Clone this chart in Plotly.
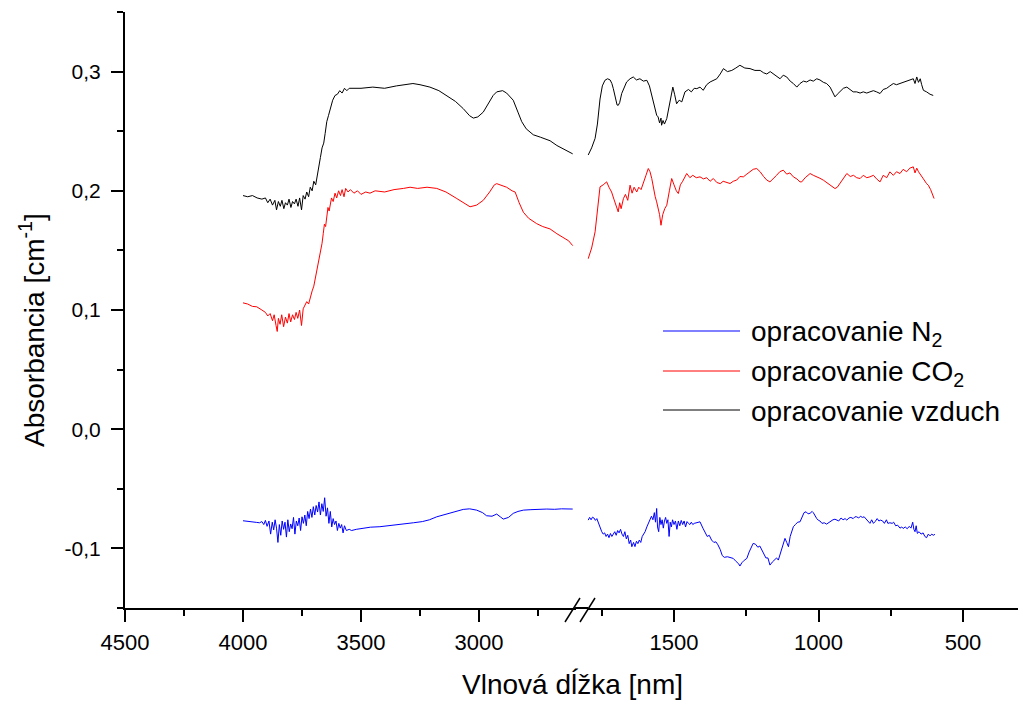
import plotly.graph_objects as go

# ---------------- data: left segment (4000 - 2600 nm) ----------------
wl_vzduch_L = [4000, 3980, 3960, 3940, 3920, 3905, 3895, 3885, 3875, 3865, 3858, 3850, 3842, 3835, 3827,
               3820, 3812, 3805, 3797, 3790, 3782, 3775, 3767, 3760, 3752, 3745, 3737, 3730, 3722, 3715,
               3707, 3700, 3692, 3685, 3678, 3672, 3665, 3658, 3652, 3645, 3638, 3631, 3620, 3610, 3600,
               3590, 3580, 3570, 3560, 3550, 3500, 3450, 3400, 3350, 3300, 3280, 3250, 3208, 3170, 3137,
               3100, 3067, 3040, 3024, 3005, 2982, 2960, 2940, 2925, 2900, 2883, 2855, 2835, 2819, 2800,
               2770, 2740, 2699, 2670, 2643, 2620, 2603]
abs_vzduch_L = [0.196, 0.195, 0.196, 0.194, 0.193, 0.194, 0.190, 0.193, 0.188, 0.192, 0.184, 0.191, 0.187, 0.192, 0.185,
                0.190, 0.188, 0.193, 0.186, 0.191, 0.189, 0.193, 0.187, 0.194, 0.184, 0.196, 0.193, 0.199, 0.195, 0.203,
                0.200, 0.208, 0.205, 0.212, 0.220, 0.228, 0.236, 0.240, 0.248, 0.258, 0.263, 0.269, 0.276, 0.280, 0.281,
                0.284, 0.282, 0.286, 0.284, 0.286, 0.286, 0.287, 0.286, 0.288, 0.289, 0.290, 0.289, 0.287, 0.284, 0.280,
                0.275, 0.269, 0.263, 0.261, 0.262, 0.266, 0.273, 0.280, 0.283, 0.284, 0.282, 0.276, 0.266, 0.258, 0.252,
                0.247, 0.245, 0.242, 0.238, 0.235, 0.233, 0.231]

wl_co2_L = [4000, 3980, 3960, 3942, 3920, 3905, 3895, 3885, 3875, 3868, 3860, 3855, 3850, 3843, 3836,
            3828, 3820, 3812, 3805, 3798, 3790, 3782, 3775, 3768, 3760, 3752, 3745, 3737, 3730, 3722,
            3715, 3707, 3700, 3692, 3685, 3678, 3672, 3665, 3660, 3655, 3650, 3645, 3640, 3635, 3630,
            3625, 3618, 3610, 3603, 3595, 3587, 3580, 3572, 3565, 3555, 3545, 3530, 3515, 3500, 3480,
            3462, 3440, 3400, 3360, 3320, 3292, 3260, 3220, 3179, 3140, 3094, 3060, 3038, 3010, 2982,
            2955, 2935, 2925, 2900, 2883, 2860, 2847, 2830, 2812, 2790, 2770, 2756, 2730, 2699, 2670,
            2643, 2620, 2603]
abs_co2_L = [0.106, 0.105, 0.103, 0.1027, 0.100, 0.098, 0.095, 0.097, 0.091, 0.096, 0.087, 0.082, 0.093, 0.088, 0.096,
             0.086, 0.094, 0.089, 0.097, 0.090, 0.096, 0.092, 0.098, 0.093, 0.100, 0.087, 0.101, 0.104, 0.107, 0.105,
             0.111, 0.116, 0.120, 0.128, 0.134, 0.140, 0.148, 0.156, 0.164, 0.172, 0.170, 0.180, 0.186, 0.183, 0.190,
             0.194, 0.191, 0.198, 0.194, 0.200, 0.196, 0.201, 0.195, 0.202, 0.199, 0.201, 0.198, 0.200, 0.197, 0.199,
             0.198, 0.200, 0.199, 0.201, 0.202, 0.203, 0.202, 0.203, 0.202, 0.199, 0.1935, 0.189, 0.1866, 0.188, 0.192,
             0.199, 0.205, 0.206, 0.204, 0.203, 0.200, 0.199, 0.190, 0.182, 0.177, 0.174, 0.1725, 0.170, 0.168, 0.164,
             0.161, 0.158, 0.154]

wl_n2_L = [4000, 3980, 3960, 3942, 3930, 3920, 3912, 3905, 3898, 3890, 3883, 3876, 3870, 3864, 3858,
           3852, 3846, 3840, 3834, 3828, 3822, 3816, 3810, 3804, 3798, 3792, 3786, 3780, 3774, 3768,
           3762, 3756, 3750, 3744, 3738, 3732, 3726, 3720, 3714, 3708, 3702, 3696, 3690, 3684, 3678,
           3672, 3666, 3660, 3654, 3648, 3642, 3636, 3630, 3624, 3618, 3612, 3606, 3600, 3594, 3588,
           3582, 3576, 3570, 3562, 3550, 3540, 3520, 3500, 3480, 3460, 3420, 3380, 3340, 3300, 3278,
           3240, 3210, 3179, 3140, 3100, 3067, 3040, 3010, 2985, 2968, 2945, 2925, 2910, 2897, 2875,
           2855, 2835, 2812, 2780, 2750, 2713, 2680, 2650, 2603]
abs_n2_L = [-0.0768, -0.0775, -0.0780, -0.0782, -0.0785, -0.0775, -0.0800, -0.0765, -0.0815, -0.0770, -0.0880, -0.0780, -0.0845, -0.0760, -0.0830,
            -0.0950, -0.0800, -0.0890, -0.0770, -0.0840, -0.0780, -0.0905, -0.0760, -0.0860, -0.0795, -0.0835, -0.0740, -0.0880, -0.0770, -0.0810,
            -0.0745, -0.0850, -0.0735, -0.0790, -0.0720, -0.0810, -0.0690, -0.0750, -0.0670, -0.0740, -0.0650, -0.0720, -0.0640, -0.0695, -0.0610,
            -0.0720, -0.0625, -0.0690, -0.0575, -0.0730, -0.0660, -0.0790, -0.0690, -0.0820, -0.0750, -0.0800, -0.0770, -0.0850, -0.0790, -0.0830,
            -0.0800, -0.0870, -0.0810, -0.0850, -0.0840, -0.0850, -0.0840, -0.0835, -0.0825, -0.0822, -0.0818, -0.0810, -0.0800, -0.0790, -0.0785,
            -0.0775, -0.0760, -0.0735, -0.0715, -0.0695, -0.0673, -0.0668, -0.0679, -0.0700, -0.0726, -0.0730, -0.0712, -0.0735, -0.0754, -0.0740,
            -0.0706, -0.0690, -0.0679, -0.0675, -0.0672, -0.0670, -0.0672, -0.0668, -0.0670]

# ---------------- data: right segment (1800 - 600 nm) ----------------
wl_vzduch_R = [1797, 1785, 1773, 1765, 1756, 1748, 1739, 1730, 1721, 1715, 1710, 1703, 1697, 1693, 1688,
               1681, 1672, 1664, 1652, 1641, 1630, 1618, 1606, 1594, 1585, 1577, 1568, 1560, 1555, 1550,
               1545, 1543, 1538, 1533, 1525, 1515, 1508, 1504, 1498, 1491, 1482, 1473, 1462, 1450, 1440,
               1430, 1421, 1410, 1399, 1387, 1375, 1363, 1352, 1340, 1329, 1315, 1300, 1286, 1272, 1255,
               1237, 1220, 1202, 1190, 1179, 1167, 1156, 1145, 1133, 1122, 1110, 1098, 1087, 1075, 1064,
               1052, 1041, 1029, 1018, 1006, 995, 983, 972, 960, 950, 943, 935, 926, 914, 902,
               890, 880, 868, 856, 845, 833, 822, 810, 799, 787, 776, 764, 753, 741, 730,
               718, 707, 695, 684, 672, 666, 660, 654, 648, 643, 637, 626, 614, 603]
abs_vzduch_R = [0.230, 0.236, 0.244, 0.256, 0.277, 0.288, 0.2927, 0.294, 0.293, 0.290, 0.2857, 0.278, 0.272, 0.2717, 0.274,
                0.2816, 0.287, 0.2913, 0.294, 0.2955, 0.293, 0.294, 0.292, 0.2927, 0.288, 0.280, 0.270, 0.2634, 0.262, 0.257,
                0.261, 0.255, 0.259, 0.256, 0.2606, 0.272, 0.280, 0.287, 0.281, 0.273, 0.276, 0.2746, 0.283, 0.285, 0.283,
                0.286, 0.2857, 0.287, 0.2843, 0.289, 0.2913, 0.293, 0.294, 0.298, 0.3025, 0.300, 0.301, 0.303, 0.3053, 0.303,
                0.3025, 0.301, 0.301, 0.299, 0.298, 0.300, 0.298, 0.296, 0.294, 0.297, 0.2955, 0.292, 0.290, 0.287, 0.290,
                0.292, 0.2913, 0.293, 0.292, 0.294, 0.293, 0.291, 0.290, 0.287, 0.282, 0.2788, 0.281, 0.283, 0.286, 0.287,
                0.285, 0.283, 0.283, 0.282, 0.283, 0.282, 0.283, 0.284, 0.283, 0.2816, 0.285, 0.286, 0.288, 0.290, 0.289,
                0.290, 0.2913, 0.292, 0.293, 0.294, 0.290, 0.2955, 0.291, 0.294, 0.289, 0.2843, 0.283, 0.281, 0.280]

wl_co2_R = [1797, 1785, 1773, 1765, 1756, 1745, 1733, 1725, 1716, 1708, 1700, 1693, 1688, 1683, 1675,
            1668, 1660, 1652, 1645, 1638, 1629, 1622, 1614, 1606, 1597, 1589, 1583, 1577, 1570, 1565,
            1560, 1555, 1550, 1545, 1539, 1532, 1525, 1516, 1508, 1500, 1492, 1485, 1478, 1470, 1462,
            1456, 1445, 1435, 1423, 1410, 1398, 1387, 1375, 1364, 1352, 1340, 1330, 1318, 1306, 1295,
            1283, 1272, 1260, 1248, 1237, 1226, 1214, 1202, 1190, 1179, 1168, 1156, 1145, 1134, 1122,
            1110, 1099, 1087, 1075, 1064, 1058, 1046, 1040, 1029, 1018, 1006, 995, 983, 972, 960,
            950, 943, 935, 926, 914, 902, 890, 879, 868, 856, 845, 833, 822, 810, 799,
            787, 776, 764, 753, 741, 730, 718, 707, 695, 684, 672, 666, 660, 654, 649,
            637, 626, 620, 612, 606, 600]
abs_co2_R = [0.143, 0.152, 0.1656, 0.185, 0.2033, 0.205, 0.2075, 0.203, 0.199, 0.193, 0.187, 0.1823, 0.190, 0.185, 0.1935,
             0.197, 0.192, 0.2047, 0.198, 0.203, 0.199, 0.203, 0.201, 0.2075, 0.213, 0.2187, 0.216, 0.2103, 0.200, 0.195,
             0.1907, 0.185, 0.180, 0.1711, 0.180, 0.185, 0.1879, 0.200, 0.2103, 0.205, 0.200, 0.1977, 0.205, 0.208, 0.212,
             0.2145, 0.211, 0.213, 0.211, 0.2117, 0.210, 0.211, 0.208, 0.2103, 0.207, 0.206, 0.208, 0.207, 0.2061, 0.208,
             0.209, 0.212, 0.2117, 0.214, 0.216, 0.218, 0.2187, 0.216, 0.212, 0.209, 0.2075, 0.210, 0.213, 0.216, 0.2173,
             0.214, 0.215, 0.2117, 0.210, 0.2075, 0.2075, 0.211, 0.212, 0.2145, 0.213, 0.212, 0.2105, 0.2089, 0.207, 0.205,
             0.203, 0.2019, 0.203, 0.206, 0.210, 0.2145, 0.212, 0.213, 0.211, 0.2103, 0.213, 0.211, 0.2117, 0.213, 0.210,
             0.2075, 0.213, 0.211, 0.2159, 0.213, 0.216, 0.2145, 0.218, 0.216, 0.219, 0.2201, 0.215, 0.219, 0.216, 0.2145,
             0.210, 0.206, 0.2047, 0.201, 0.197, 0.1935]

wl_n2_R = [1797, 1792, 1787, 1782, 1777, 1772, 1767, 1760, 1755, 1750, 1745, 1740, 1735, 1730, 1725,
           1720, 1715, 1710, 1705, 1700, 1695, 1690, 1685, 1680, 1675, 1670, 1665, 1660, 1655, 1650,
           1646, 1640, 1635, 1630, 1625, 1620, 1615, 1610, 1605, 1600, 1594, 1588, 1583, 1578, 1573,
           1568, 1564, 1560, 1557, 1553, 1549, 1545, 1541, 1537, 1533, 1529, 1525, 1521, 1517, 1513,
           1509, 1505, 1500, 1495, 1490, 1485, 1480, 1475, 1470, 1465, 1460, 1455, 1450, 1445, 1440,
           1435, 1430, 1420, 1410, 1400, 1392, 1385, 1378, 1370, 1362, 1355, 1348, 1340, 1333, 1326,
           1315, 1305, 1295, 1285, 1276, 1272, 1265, 1257, 1248, 1240, 1233, 1226, 1218, 1210, 1203,
           1197, 1190, 1182, 1175, 1168, 1160, 1152, 1145, 1139, 1130, 1122, 1116, 1110, 1104, 1098,
           1092, 1087, 1080, 1072, 1064, 1058, 1050, 1043, 1036, 1029, 1022, 1018, 1012, 1006, 1001,
           995, 988, 980, 972, 965, 958, 950, 943, 937, 930, 922, 915, 908, 902, 895,
           888, 880, 874, 868, 861, 855, 848, 842, 836, 829, 822, 816, 810, 804, 797,
           791, 785, 778, 772, 765, 760, 753, 745, 740, 733, 726, 718, 712, 707, 700,
           693, 686, 680, 674, 670, 666, 662, 658, 652, 645, 638, 632, 626, 620, 614,
           608, 603, 597]
abs_n2_R = [-0.0763, -0.0740, -0.0760, -0.0738, -0.0745, -0.0765, -0.0750, -0.0800, -0.0830, -0.0860, -0.0880, -0.0870, -0.0900, -0.0880, -0.0910,
            -0.0875, -0.0900, -0.0880, -0.0860, -0.0890, -0.0850, -0.0870, -0.0840, -0.0880, -0.0900, -0.0860, -0.0920, -0.0890, -0.0960, -0.0930,
            -0.0986, -0.0950, -0.0985, -0.0940, -0.0960, -0.0930, -0.0950, -0.0900, -0.0880, -0.0860, -0.0820, -0.0780, -0.0750, -0.0730, -0.0760,
            -0.0700, -0.0780, -0.0665, -0.0820, -0.0860, -0.0740, -0.0800, -0.0760, -0.0830, -0.0770, -0.0740, -0.0790, -0.0760, -0.0900, -0.0780,
            -0.0820, -0.0760, -0.0800, -0.0770, -0.0840, -0.0770, -0.0810, -0.0765, -0.0800, -0.0770, -0.0820, -0.0775, -0.0790, -0.0800, -0.0780,
            -0.0800, -0.0790, -0.0785, -0.0777, -0.0830, -0.0870, -0.0900, -0.0890, -0.0930, -0.0950, -0.0945, -0.0970, -0.1010, -0.1060, -0.1075,
            -0.1070, -0.1075, -0.1084, -0.1110, -0.1130, -0.1148, -0.1120, -0.1100, -0.1084, -0.1030, -0.1000, -0.0958, -0.0965, -0.0990, -0.0980,
            -0.1010, -0.1040, -0.1080, -0.1080, -0.1140, -0.1115, -0.1100, -0.1080, -0.1098, -0.1020, -0.0960, -0.0916, -0.0950, -0.0986, -0.0900,
            -0.0850, -0.0818, -0.0800, -0.0780, -0.0777, -0.0740, -0.0700, -0.0693, -0.0710, -0.0705, -0.0690, -0.0700, -0.0730, -0.0750, -0.0763,
            -0.0770, -0.0790, -0.0785, -0.0796, -0.0785, -0.0770, -0.0760, -0.0755, -0.0763, -0.0770, -0.0745, -0.0760, -0.0750, -0.0763, -0.0745,
            -0.0740, -0.0750, -0.0735, -0.0735, -0.0745, -0.0730, -0.0740, -0.0735, -0.0750, -0.0770, -0.0790, -0.0760, -0.0790, -0.0775, -0.0750,
            -0.0770, -0.0763, -0.0770, -0.0790, -0.0760, -0.0790, -0.0785, -0.0790, -0.0780, -0.0810, -0.0805, -0.0830, -0.0820, -0.0833, -0.0820,
            -0.0835, -0.0815, -0.0830, -0.0780, -0.0840, -0.0860, -0.0810, -0.0874, -0.0860, -0.0880, -0.0870, -0.0900, -0.0910, -0.0880, -0.0895,
            -0.0880, -0.0890, -0.0882]

series_names = ["opracovanie N<sub>2</sub>", "opracovanie CO<sub>2</sub>", "opracovanie vzduch"]
series_colors = ["#0000ff", "#ff0000", "#000000"]

x_ticks_left = [4500, 4000, 3500, 3000]
x_minor_left = [4250, 3750, 3250, 2750]
x_ticks_right = [1500, 1000, 500]
x_minor_right = [1750, 1250, 750]
y_ticks = [-0.1, 0.0, 0.1, 0.2, 0.3]
y_ticktext = ["-0,1", "0,0", "0,1", "0,2", "0,3"]
y_minor = [-0.15, -0.05, 0.05, 0.15, 0.25, 0.35]

FONT = "Liberation Sans, Arial, sans-serif"

fig = go.Figure()
left_sets = [(wl_n2_L, abs_n2_L), (wl_co2_L, abs_co2_L), (wl_vzduch_L, abs_vzduch_L)]
right_sets = [(wl_n2_R, abs_n2_R), (wl_co2_R, abs_co2_R), (wl_vzduch_R, abs_vzduch_R)]
for (x, y), c in zip(left_sets, series_colors):
    fig.add_trace(go.Scatter(x=x, y=y, mode="lines", line=dict(color=c, width=1),
                             xaxis="x", yaxis="y", showlegend=False))
for (x, y), c in zip(right_sets, series_colors):
    fig.add_trace(go.Scatter(x=x, y=y, mode="lines", line=dict(color=c, width=1),
                             xaxis="x2", yaxis="y", showlegend=False))

axis_common = dict(showgrid=False, zeroline=False, showline=True, linecolor="black", linewidth=2,
                   ticks="outside", ticklen=12, tickwidth=1.5, tickcolor="black", automargin=False)
minor_common = dict(tickmode="array", ticks="outside", ticklen=6, tickwidth=1.5, tickcolor="black")

# page body has an 8px margin: the figure is sized so its plot area lands at x 125-1026, y 12-608
fig.update_layout(
    width=1018, height=694,
    margin=dict(l=117, r=0, t=4, b=94, autoexpand=False),
    paper_bgcolor="white", plot_bgcolor="white",
    font=dict(family=FONT, color="black"),
    xaxis=dict(domain=[0, 0.5003], range=[4500, 2590], tickmode="array", tickvals=x_ticks_left,
               minor=dict(tickvals=x_minor_left, **minor_common), anchor="y",
               tickfont=dict(family=FONT, size=22, color="black"), ticklabelstandoff=2, **axis_common),
    xaxis2=dict(domain=[0.5131, 1.0], range=[1800, 282], tickmode="array", tickvals=x_ticks_right,
                minor=dict(tickvals=x_minor_right, **minor_common), anchor="y",
                tickfont=dict(family=FONT, size=22, color="black"), ticklabelstandoff=2, **axis_common),
    yaxis=dict(range=[-0.15, 0.35], tickmode="array", tickvals=y_ticks, ticktext=y_ticktext,
               minor=dict(tickvals=y_minor, **minor_common), anchor="x",
               tickfont=dict(family=FONT, size=21, color="black"), ticklabelstandoff=6, **axis_common),
    showlegend=False,
)

def px_x(p):
    return (p - 125) / 901.0

def px_y(p):
    return (608 - p) / 596.0

shapes = [
    dict(type="line", xref="paper", yref="paper", x0=0.4995, x1=0.514, y0=0, y1=0,
         line=dict(color="black", width=2)),
    dict(type="line", xref="paper", yref="paper", x0=px_x(565), y0=px_y(622), x1=px_x(580), y1=px_y(598),
         line=dict(color="black", width=1.5)),
    dict(type="line", xref="paper", yref="paper", x0=px_x(580), y0=px_y(622), x1=px_x(595), y1=px_y(598),
         line=dict(color="black", width=1.5)),
]
annotations = []
legend_y = [331, 371, 410]
for name, col, ly in zip(series_names, series_colors, legend_y):
    shapes.append(dict(type="line", xref="paper", yref="paper", x0=px_x(663), x1=px_x(740),
                       y0=px_y(ly), y1=px_y(ly), line=dict(color=col, width=1)))
    annotations.append(dict(xref="paper", yref="paper", x=px_x(749), y=px_y(ly + 2), text=name,
                            showarrow=False, xanchor="left", yanchor="middle",
                            font=dict(family=FONT, size=28, color="black")))

annotations.append(dict(xref="paper", yref="paper", x=px_x(572), y=px_y(684), text="Vlnová dĺžka [nm]",
                        showarrow=False, xanchor="center", yanchor="middle",
                        font=dict(family=FONT, size=28, color="black")))
annotations.append(dict(xref="paper", yref="paper", x=px_x(32), y=px_y(330),
                        text="Absorbancia [cm<sup>-1</sup>]", textangle=-90,
                        showarrow=False, xanchor="center", yanchor="middle",
                        font=dict(family=FONT, size=28, color="black")))

fig.update_layout(shapes=shapes, annotations=annotations)
fig.write_html("out.html")
